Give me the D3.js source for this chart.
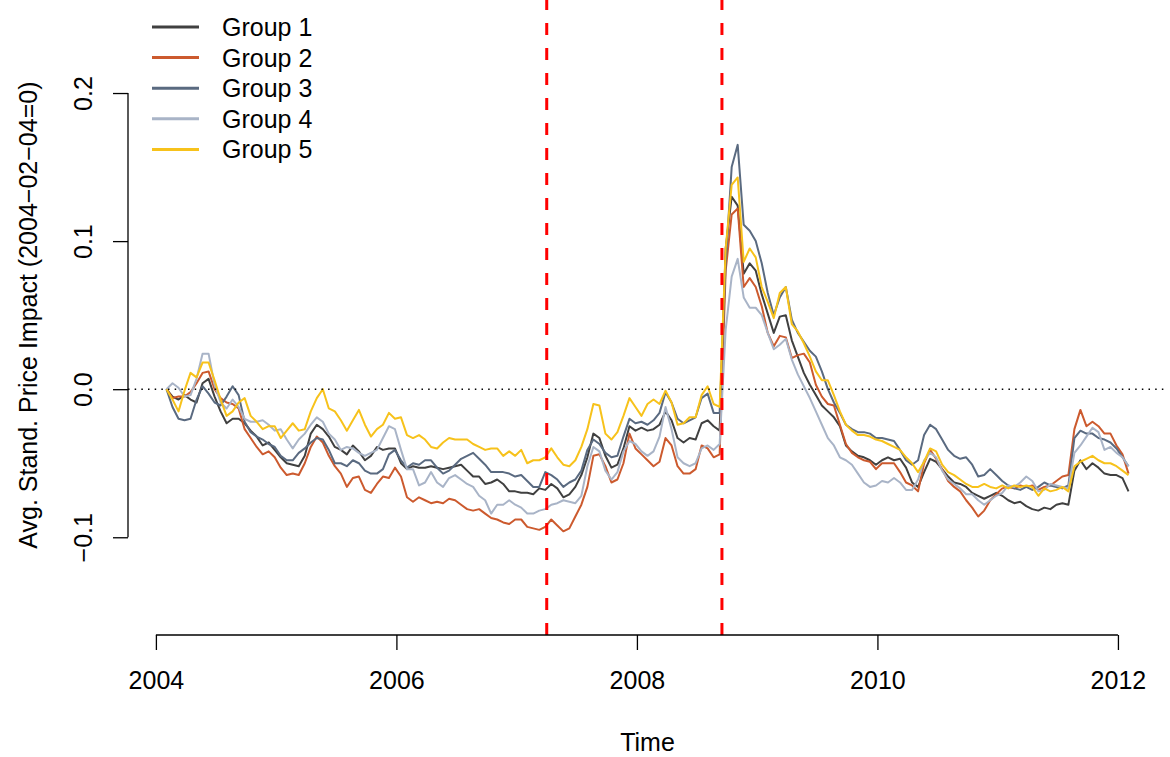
<!DOCTYPE html>
<html>
<head>
<meta charset="utf-8">
<script src="https://cdn.jsdelivr.net/npm/d3@7/dist/d3.min.js"></script>
<style>
  html, body { margin: 0; padding: 0; background: #ffffff; }
  svg { display: block; }
  text { font-family: "Liberation Sans", Arial, Helvetica, sans-serif; fill: #000; }
</style>
</head>
<body>
<svg id="chart" width="1170" height="757"></svg>
<script>
// Cumulative standardized price impact by group, sampled every 0.05 years
// starting 2004-02-04 (all groups normalized to 0 on that date).
const seriesStart = 2004.088;
const seriesStep = 0.05;

const groupNames = ["Group 1", "Group 2", "Group 3", "Group 4", "Group 5"];
const groupColors = ["#404040", "#CC5A2E", "#5A6A80", "#A9B4C7", "#F7C21B"];

const group1 = [0,-0.005,-0.007,-0.004,-0.007,-0.009,0.004,0.007,-0.005,-0.015,
  -0.023,-0.020,-0.020,-0.023,-0.028,-0.032,-0.038,-0.036,-0.041,-0.046,
  -0.050,-0.051,-0.052,-0.045,-0.030,-0.024,-0.027,-0.032,-0.039,-0.041,
  -0.044,-0.038,-0.042,-0.048,-0.045,-0.039,-0.041,-0.040,-0.040,-0.050,
  -0.054,-0.052,-0.053,-0.053,-0.052,-0.053,-0.054,-0.053,-0.052,-0.051,
  -0.055,-0.059,-0.059,-0.064,-0.063,-0.061,-0.064,-0.069,-0.069,-0.070,
  -0.070,-0.071,-0.067,-0.068,-0.064,-0.067,-0.073,-0.071,-0.066,-0.058,
  -0.046,-0.030,-0.033,-0.045,-0.053,-0.051,-0.040,-0.025,-0.028,-0.026,
  -0.028,-0.027,-0.024,-0.015,-0.021,-0.033,-0.036,-0.033,-0.034,-0.023,
  -0.021,-0.025,-0.028,0.095,0.130,0.124,0.078,0.085,0.080,0.064,
  0.051,0.038,0.049,0.050,0.033,0.022,0.011,0.003,-0.004,-0.011,
  -0.015,-0.019,-0.025,-0.038,-0.042,-0.045,-0.046,-0.048,-0.051,-0.048,
  -0.046,-0.048,-0.047,-0.053,-0.063,-0.066,-0.056,-0.047,-0.049,-0.054,
  -0.059,-0.063,-0.064,-0.066,-0.070,-0.072,-0.074,-0.072,-0.070,-0.072,
  -0.075,-0.077,-0.076,-0.079,-0.081,-0.082,-0.080,-0.081,-0.078,-0.077,
  -0.078,-0.055,-0.048,-0.054,-0.050,-0.053,-0.057,-0.058,-0.058,-0.060,
  -0.069];

const group2 = [0,-0.006,-0.005,-0.005,-0.002,0.004,0.011,0.012,0.000,-0.006,
  -0.009,-0.010,-0.013,-0.027,-0.033,-0.039,-0.044,-0.042,-0.046,-0.053,
  -0.058,-0.057,-0.058,-0.050,-0.039,-0.032,-0.036,-0.045,-0.052,-0.057,
  -0.066,-0.060,-0.059,-0.068,-0.070,-0.064,-0.059,-0.060,-0.053,-0.059,
  -0.073,-0.076,-0.073,-0.075,-0.077,-0.076,-0.077,-0.074,-0.075,-0.078,
  -0.081,-0.082,-0.081,-0.084,-0.087,-0.088,-0.090,-0.091,-0.088,-0.088,
  -0.093,-0.094,-0.095,-0.093,-0.088,-0.092,-0.096,-0.094,-0.086,-0.078,
  -0.066,-0.045,-0.044,-0.052,-0.063,-0.061,-0.050,-0.030,-0.040,-0.044,
  -0.048,-0.052,-0.049,-0.033,-0.038,-0.052,-0.057,-0.057,-0.054,-0.038,
  -0.040,-0.046,-0.044,0.080,0.118,0.122,0.069,0.075,0.069,0.056,
  0.038,0.029,0.036,0.035,0.021,0.023,0.024,0.018,0.003,-0.005,
  -0.010,-0.011,-0.024,-0.037,-0.043,-0.046,-0.048,-0.049,-0.054,-0.050,
  -0.050,-0.050,-0.056,-0.063,-0.065,-0.069,-0.050,-0.041,-0.047,-0.054,
  -0.062,-0.066,-0.069,-0.075,-0.080,-0.086,-0.082,-0.075,-0.071,-0.067,
  -0.066,-0.067,-0.065,-0.066,-0.065,-0.068,-0.066,-0.065,-0.062,-0.059,
  -0.058,-0.027,-0.014,-0.025,-0.022,-0.025,-0.030,-0.030,-0.038,-0.044,
  -0.057];

const group3 = [0,-0.012,-0.020,-0.021,-0.020,-0.007,0.002,-0.003,-0.009,-0.011,
  -0.005,0.002,-0.004,-0.022,-0.029,-0.032,-0.034,-0.037,-0.039,-0.045,
  -0.048,-0.048,-0.043,-0.040,-0.036,-0.033,-0.034,-0.041,-0.050,-0.050,
  -0.052,-0.048,-0.050,-0.055,-0.057,-0.057,-0.054,-0.044,-0.041,-0.048,
  -0.053,-0.050,-0.051,-0.048,-0.048,-0.053,-0.057,-0.055,-0.051,-0.047,
  -0.045,-0.043,-0.047,-0.051,-0.056,-0.056,-0.056,-0.057,-0.059,-0.058,
  -0.062,-0.066,-0.066,-0.056,-0.058,-0.061,-0.066,-0.063,-0.061,-0.055,
  -0.041,-0.034,-0.037,-0.043,-0.046,-0.045,-0.032,-0.020,-0.023,-0.022,
  -0.024,-0.021,-0.016,-0.002,-0.009,-0.020,-0.023,-0.021,-0.019,-0.006,
  -0.003,-0.016,-0.016,0.085,0.150,0.165,0.111,0.107,0.100,0.085,
  0.065,0.050,0.062,0.069,0.047,0.038,0.032,0.026,0.022,0.012,
  0.000,-0.009,-0.016,-0.024,-0.027,-0.029,-0.029,-0.030,-0.033,-0.033,
  -0.034,-0.035,-0.041,-0.048,-0.051,-0.048,-0.031,-0.024,-0.027,-0.034,
  -0.041,-0.045,-0.047,-0.046,-0.051,-0.059,-0.058,-0.054,-0.058,-0.062,
  -0.065,-0.067,-0.068,-0.066,-0.068,-0.066,-0.063,-0.065,-0.066,-0.067,
  -0.065,-0.033,-0.028,-0.030,-0.030,-0.033,-0.034,-0.036,-0.040,-0.046,
  -0.052];

const group4 = [0,0.004,0.001,-0.005,-0.004,0.007,0.024,0.024,0.003,-0.009,
  -0.013,-0.007,-0.012,-0.020,-0.022,-0.022,-0.021,-0.024,-0.028,-0.027,
  -0.034,-0.040,-0.034,-0.030,-0.024,-0.019,-0.022,-0.030,-0.034,-0.041,
  -0.039,-0.040,-0.043,-0.045,-0.043,-0.041,-0.033,-0.025,-0.027,-0.041,
  -0.054,-0.054,-0.065,-0.063,-0.056,-0.063,-0.066,-0.060,-0.058,-0.061,
  -0.064,-0.066,-0.072,-0.075,-0.084,-0.078,-0.078,-0.075,-0.078,-0.080,
  -0.084,-0.084,-0.082,-0.081,-0.078,-0.077,-0.075,-0.076,-0.077,-0.072,
  -0.052,-0.039,-0.042,-0.055,-0.061,-0.056,-0.042,-0.035,-0.037,-0.042,
  -0.045,-0.042,-0.032,-0.012,-0.027,-0.046,-0.050,-0.052,-0.050,-0.040,
  -0.038,-0.041,-0.037,0.040,0.076,0.088,0.062,0.055,0.055,0.050,
  0.038,0.027,0.030,0.034,0.020,0.010,0.002,-0.006,-0.015,-0.024,
  -0.033,-0.038,-0.046,-0.048,-0.051,-0.057,-0.063,-0.066,-0.065,-0.062,
  -0.063,-0.060,-0.063,-0.068,-0.068,-0.061,-0.048,-0.043,-0.046,-0.055,
  -0.061,-0.064,-0.067,-0.071,-0.071,-0.075,-0.078,-0.075,-0.072,-0.070,
  -0.065,-0.066,-0.063,-0.059,-0.062,-0.069,-0.068,-0.064,-0.065,-0.066,
  -0.067,-0.043,-0.038,-0.032,-0.026,-0.029,-0.041,-0.039,-0.043,-0.046,
  -0.052];

const group5 = [0,-0.007,-0.015,-0.001,0.011,0.008,0.018,0.018,0.006,-0.007,
  -0.018,-0.015,-0.009,-0.006,-0.018,-0.022,-0.027,-0.025,-0.025,-0.033,
  -0.028,-0.023,-0.028,-0.027,-0.015,-0.006,0.000,-0.013,-0.015,-0.021,
  -0.028,-0.021,-0.014,-0.024,-0.032,-0.027,-0.024,-0.016,-0.020,-0.019,
  -0.031,-0.033,-0.031,-0.034,-0.039,-0.040,-0.036,-0.033,-0.034,-0.034,
  -0.034,-0.037,-0.039,-0.041,-0.040,-0.040,-0.045,-0.042,-0.045,-0.041,
  -0.050,-0.048,-0.048,-0.046,-0.040,-0.046,-0.051,-0.052,-0.048,-0.039,
  -0.027,-0.010,-0.011,-0.030,-0.034,-0.029,-0.018,-0.006,-0.012,-0.018,
  -0.010,-0.007,-0.010,-0.001,-0.009,-0.024,-0.023,-0.019,-0.019,-0.004,
  0.002,-0.010,-0.012,0.095,0.138,0.143,0.086,0.095,0.089,0.069,
  0.059,0.048,0.065,0.069,0.044,0.039,0.031,0.022,0.012,0.006,
  0.006,-0.004,-0.015,-0.024,-0.028,-0.031,-0.031,-0.032,-0.034,-0.035,
  -0.037,-0.039,-0.041,-0.046,-0.050,-0.056,-0.049,-0.040,-0.042,-0.051,
  -0.056,-0.058,-0.061,-0.064,-0.066,-0.066,-0.064,-0.066,-0.067,-0.065,
  -0.067,-0.065,-0.066,-0.065,-0.066,-0.072,-0.067,-0.069,-0.068,-0.066,
  -0.069,-0.052,-0.049,-0.047,-0.045,-0.048,-0.050,-0.050,-0.052,-0.055,
  -0.058];

const groups = [group1, group2, group3, group4, group5];

// Event dates marked with vertical dashed lines (2007-04-02, 2008-09-15)
const eventDates = [2007.25, 2008.707];

const xTicks = [2004, 2006, 2008, 2010, 2012];
const yTicks = [-0.1, 0.0, 0.1, 0.2];
const yLimits = [-0.15, 0.25];

// ---- layout ----
const W = 1170, H = 757;
const plot = { left: 128, right: 1167, top: -4.7, bottom: 635 };

const dates = group1.map((_, i) => seriesStart + i * seriesStep);

// R-style 4% axis padding
const xExt = d3.extent(dates);
const xPad = (xExt[1] - xExt[0]) * 0.04;
const yPad = (yLimits[1] - yLimits[0]) * 0.04;

const x = d3.scaleLinear()
  .domain([xExt[0] - xPad, xExt[1] + xPad])
  .range([plot.left, plot.right]);
const y = d3.scaleLinear()
  .domain([yLimits[0] - yPad, yLimits[1] + yPad])
  .range([plot.bottom, plot.top]);

const svg = d3.select("#chart");
svg.append("rect").attr("width", W).attr("height", H).attr("fill", "#fff");

const FS = 25;

// clip to plot region
svg.append("defs").append("clipPath").attr("id", "plotclip")
  .append("rect")
  .attr("x", plot.left).attr("y", 0)
  .attr("width", plot.right - plot.left)
  .attr("height", plot.bottom);

const plotG = svg.append("g").attr("clip-path", "url(#plotclip)");

// series lines
const line = d3.line()
  .x((d, i) => x(dates[i]))
  .y(d => y(d));

groups.forEach((vals, k) => {
  plotG.append("path")
    .datum(vals)
    .attr("fill", "none")
    .attr("stroke", groupColors[k])
    .attr("stroke-width", 2)
    .attr("stroke-linejoin", "round")
    .attr("d", line);
});

// zero reference line (dotted)
plotG.append("line")
  .attr("x1", plot.left).attr("x2", plot.right)
  .attr("y1", y(0)).attr("y2", y(0))
  .attr("stroke", "#000")
  .attr("stroke-width", 1.5)
  .attr("stroke-dasharray", "1.5 5.17");

// event lines (dashed red, pattern starts at bottom)
eventDates.forEach(d => {
  plotG.append("line")
    .attr("x1", x(d)).attr("x2", x(d))
    .attr("y1", plot.bottom).attr("y2", plot.top)
    .attr("stroke", "#FF0000")
    .attr("stroke-width", 3)
    .attr("stroke-dasharray", "12 13");
});

// x axis
const xAxis = d3.axisBottom(x)
  .tickValues(xTicks)
  .tickFormat(d3.format("d"))
  .tickSize(15)
  .tickSizeOuter(0)
  .tickPadding(21.5);
const gx = svg.append("g")
  .attr("transform", `translate(0,${plot.bottom})`)
  .call(xAxis);
gx.select(".domain")
  .attr("d", `M${x(xTicks[0])},0H${x(xTicks[xTicks.length - 1])}`)
  .attr("stroke", "#000").attr("stroke-width", 1.3);
gx.selectAll(".tick line").attr("stroke", "#000").attr("stroke-width", 1.3);
gx.selectAll(".tick text")
  .attr("font-size", FS)
  .style("font-family", "'Liberation Sans', Arial, sans-serif")
  .attr("fill", "#000");

// y axis
const yAxis = d3.axisLeft(y)
  .tickValues(yTicks)
  .tickFormat(d3.format(".1f"))
  .tickSize(15)
  .tickSizeOuter(0);
const gy = svg.append("g")
  .attr("transform", `translate(${plot.left},0)`)
  .call(yAxis);
gy.select(".domain")
  .attr("d", `M0,${y(yTicks[0])}V${y(yTicks[yTicks.length - 1])}`)
  .attr("stroke", "#000").attr("stroke-width", 1.3);
gy.selectAll(".tick line").attr("stroke", "#000").attr("stroke-width", 1.3);
gy.selectAll(".tick text")
  .attr("font-size", FS)
  .style("font-family", "'Liberation Sans', Arial, sans-serif")
  .attr("fill", "#000")
  .attr("x", null).attr("dy", null)
  .attr("text-anchor", "middle")
  .attr("transform", "translate(-36,0) rotate(-90)")
  .text(d => d3.format(".1f")(d).replace("-", "\u2212"));

// axis titles
svg.append("text")
  .attr("x", (plot.left + plot.right) / 2)
  .attr("y", 751)
  .attr("text-anchor", "middle")
  .attr("font-size", FS)
  .text("Time");

svg.append("text")
  .attr("transform", `translate(37,${(plot.top + plot.bottom) / 2}) rotate(-90)`)
  .attr("text-anchor", "middle")
  .attr("font-size", FS)
  .text("Avg. Stand. Price Impact (2004\u221202\u221204=0)");

// legend
const legend = svg.append("g");
groupNames.forEach((name, k) => {
  const ly = 27 + k * 30.6;
  legend.append("line")
    .attr("x1", 152).attr("x2", 199)
    .attr("y1", ly).attr("y2", ly)
    .attr("stroke", groupColors[k])
    .attr("stroke-width", 3);
  legend.append("text")
    .attr("x", 222).attr("y", ly + 9)
    .attr("font-size", FS)
    .text(name);
});
</script>
</body>
</html>
